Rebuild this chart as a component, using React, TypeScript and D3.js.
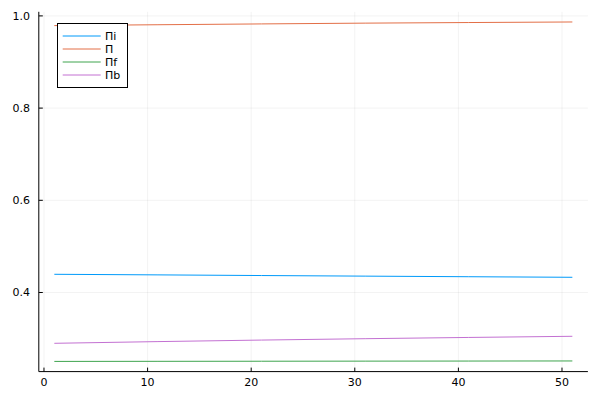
import React from "react";
import * as d3 from "d3";

const xs = [1, 11, 21, 31, 41, 51];
const seriesNames = ["Πi", "Π", "Πf", "Πb"];
const piI = [0.4395, 0.4382, 0.4368, 0.4355, 0.4342, 0.433];
const pi = [0.979, 0.9808, 0.9826, 0.9843, 0.9856, 0.9868];
const piF = [0.2505, 0.2507, 0.2509, 0.2511, 0.2513, 0.2515];
const piB = [0.2898, 0.2935, 0.2968, 0.2998, 0.3025, 0.305];
const colors = ["#009AFA", "#E36F47", "#3EA44E", "#C371D2"];
const xTicks = [0, 10, 20, 30, 40, 50];
const yTicks = [0.4, 0.6, 0.8, 1.0];

export default function App() {
  const W = 600, H = 400;
  const left = 38.8, right = 587.9, top = 11.8, bottom = 371.6;
  const all = [piI, pi, piF, piB];
  const flat = all.flat();
  const ymin = d3.min(flat)!, ymax = d3.max(flat)!;
  const yr = ymax - ymin;
  const xr = xs[xs.length - 1] - xs[0];
  const x = d3.scaleLinear().domain([xs[0] - 0.03 * xr, xs[xs.length - 1] + 0.03 * xr]).range([left, right]);
  const y = d3.scaleLinear().domain([ymin - 0.03 * yr, ymax + 0.03 * yr]).range([bottom, top]);
  const line = d3.line<number>().x((_, i) => x(xs[i])).y((d) => y(d));
  const font = "DejaVu Sans, sans-serif";
  return (
    <svg width={W} height={H} style={{ position: "absolute", left: 0, top: 0, background: "#fff" }} fontFamily={font}>
      {xTicks.map((t) => (
        <line key={"gx" + t} x1={x(t)} x2={x(t)} y1={top} y2={bottom} stroke="#000" strokeOpacity={0.1} strokeWidth={0.5} />
      ))}
      {yTicks.map((t) => (
        <line key={"gy" + t} x1={left} x2={right} y1={y(t)} y2={y(t)} stroke="#000" strokeOpacity={0.1} strokeWidth={0.5} />
      ))}
      {all.map((s, i) => (
        <path key={i} d={line(s)!} fill="none" stroke={colors[i]} strokeWidth={1} />
      ))}
      <line x1={left} x2={left} y1={top} y2={bottom} stroke="#000" strokeWidth={1} />
      <line x1={left} x2={right} y1={bottom} y2={bottom} stroke="#000" strokeWidth={1} />
      {xTicks.map((t) => (
        <g key={"tx" + t}>
          <line x1={x(t)} x2={x(t)} y1={bottom} y2={bottom - 4} stroke="#000" strokeWidth={1} />
          <text x={x(t)} y={bottom + 14} textAnchor="middle" fontSize={11} fill="#000">{t}</text>
        </g>
      ))}
      {yTicks.map((t) => (
        <g key={"ty" + t}>
          <line x1={left} x2={left + 4} y1={y(t)} y2={y(t)} stroke="#000" strokeWidth={1} />
          <text x={30} y={y(t)} dy="0.35em" textAnchor="end" fontSize={11} fill="#000">{t.toFixed(1)}</text>
        </g>
      ))}
      <rect x={57.5} y={23.5} width={70} height={64} fill="#fff" stroke="#000" strokeWidth={1} />
      {seriesNames.map((n, i) => (
        <g key={n}>
          <line x1={62.7} x2={100.7} y1={36 + i * 13} y2={36 + i * 13} stroke={colors[i]} strokeWidth={1} />
          <text x={105} y={36 + i * 13} dy="0.35em" fontSize={11} fill="#000">{n}</text>
        </g>
      ))}
    </svg>
  );
}
